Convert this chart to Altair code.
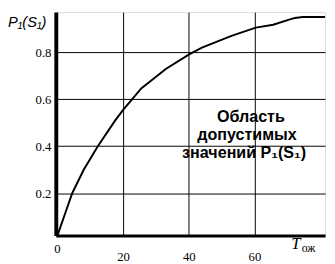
import altair as alt
import pandas as pd

# curve
t_vals = [0, 1, 2.5, 4.5, 8, 12.3, 17.6, 20, 25.6, 33.1, 40, 44, 53, 60.4, 65.7, 70.8, 72.3, 74.7, 81.5]
p_vals = [0.02, 0.06, 0.12, 0.20, 0.30, 0.40, 0.51, 0.555, 0.647, 0.73, 0.79, 0.82, 0.87, 0.905, 0.917, 0.94, 0.946, 0.95, 0.95]

x_ticks = [20, 40, 60]
y_ticks = [0.2, 0.4, 0.6, 0.8]

note_lines = ["Область", "допустимых", "значений P₁(S₁)"]
note_x = [200, 196, 193]
note_y = [108, 126, 145]

df = pd.DataFrame({"t": t_vals, "p": p_vals})

SERIF = "Liberation Serif, Times New Roman, serif"

X = alt.X("t:Q", scale=alt.Scale(domain=[-0.5, 81.5], nice=False, zero=False),
          axis=alt.Axis(values=x_ticks, title=None, grid=True, gridColor="black", gridWidth=1,
                        gridOpacity=1, ticks=False, domainColor="black", domainWidth=3,
                        labelFont=SERIF, labelFontSize=13, labelColor="black",
                        labelPadding=16, labelFlush=False))
Y = alt.Y("p:Q", scale=alt.Scale(domain=[0.02, 0.971], nice=False, zero=False),
          axis=alt.Axis(values=y_ticks, title=None, grid=True, gridColor="black", gridWidth=1,
                        gridOpacity=1, ticks=False, domainColor="black", domainWidth=4,
                        labelFont=SERIF, labelFontSize=13, labelColor="black",
                        labelPadding=5, format=".1f", labelFlush=False))

line = alt.Chart(df).mark_line(color="black", strokeWidth=2).encode(x=X, y=Y)

zero = alt.Chart(pd.DataFrame({"t": [0], "s": ["0"]})).mark_text(
    font=SERIF, fontSize=13, color="black", baseline="middle"
).encode(x=alt.X("t:Q"), y=alt.value(243), text="s:N")

notes = []
for s, xx, yy in zip(note_lines, note_x, note_y):
    notes.append(
        alt.Chart(pd.DataFrame({"s": [s]})).mark_text(
            font="Liberation Sans, Arial, sans-serif", fontWeight="bold", fontSize=16.5, color="black",
            align="center", baseline="middle"
        ).encode(x=alt.value(xx), y=alt.value(yy), text="s:N")
    )

ytitle = alt.Chart(pd.DataFrame({"s": ["P₁(S₁)"]})).mark_text(
    font="Liberation Sans, Arial, sans-serif", fontStyle="italic", fontSize=15, color="black",
    align="left", baseline="middle"
).encode(x=alt.value(-49), y=alt.value(10), text="s:N")

tT = alt.Chart(pd.DataFrame({"s": ["T"]})).mark_text(
    font=SERIF, fontStyle="italic", fontSize=17, color="black",
    align="center", baseline="middle"
).encode(x=alt.value(246), y=alt.value(238), text="s:N")

tsub = alt.Chart(pd.DataFrame({"s": ["ож"]})).mark_text(
    font=SERIF, fontSize=12, color="black",
    align="center", baseline="middle"
).encode(x=alt.value(259), y=alt.value(242), text="s:N")

chart = alt.layer(line, zero, *notes, ytitle, tT, tsub).properties(
    width=276, height=229,
    autosize=alt.AutoSizeParams(type="none"),
    padding={"left": 49, "top": 1, "right": 2, "bottom": 26},
).configure_view(stroke="black", strokeWidth=3).configure(background="white")

chart.save("out.html", embed_options={"renderer": "svg", "actions": False})
